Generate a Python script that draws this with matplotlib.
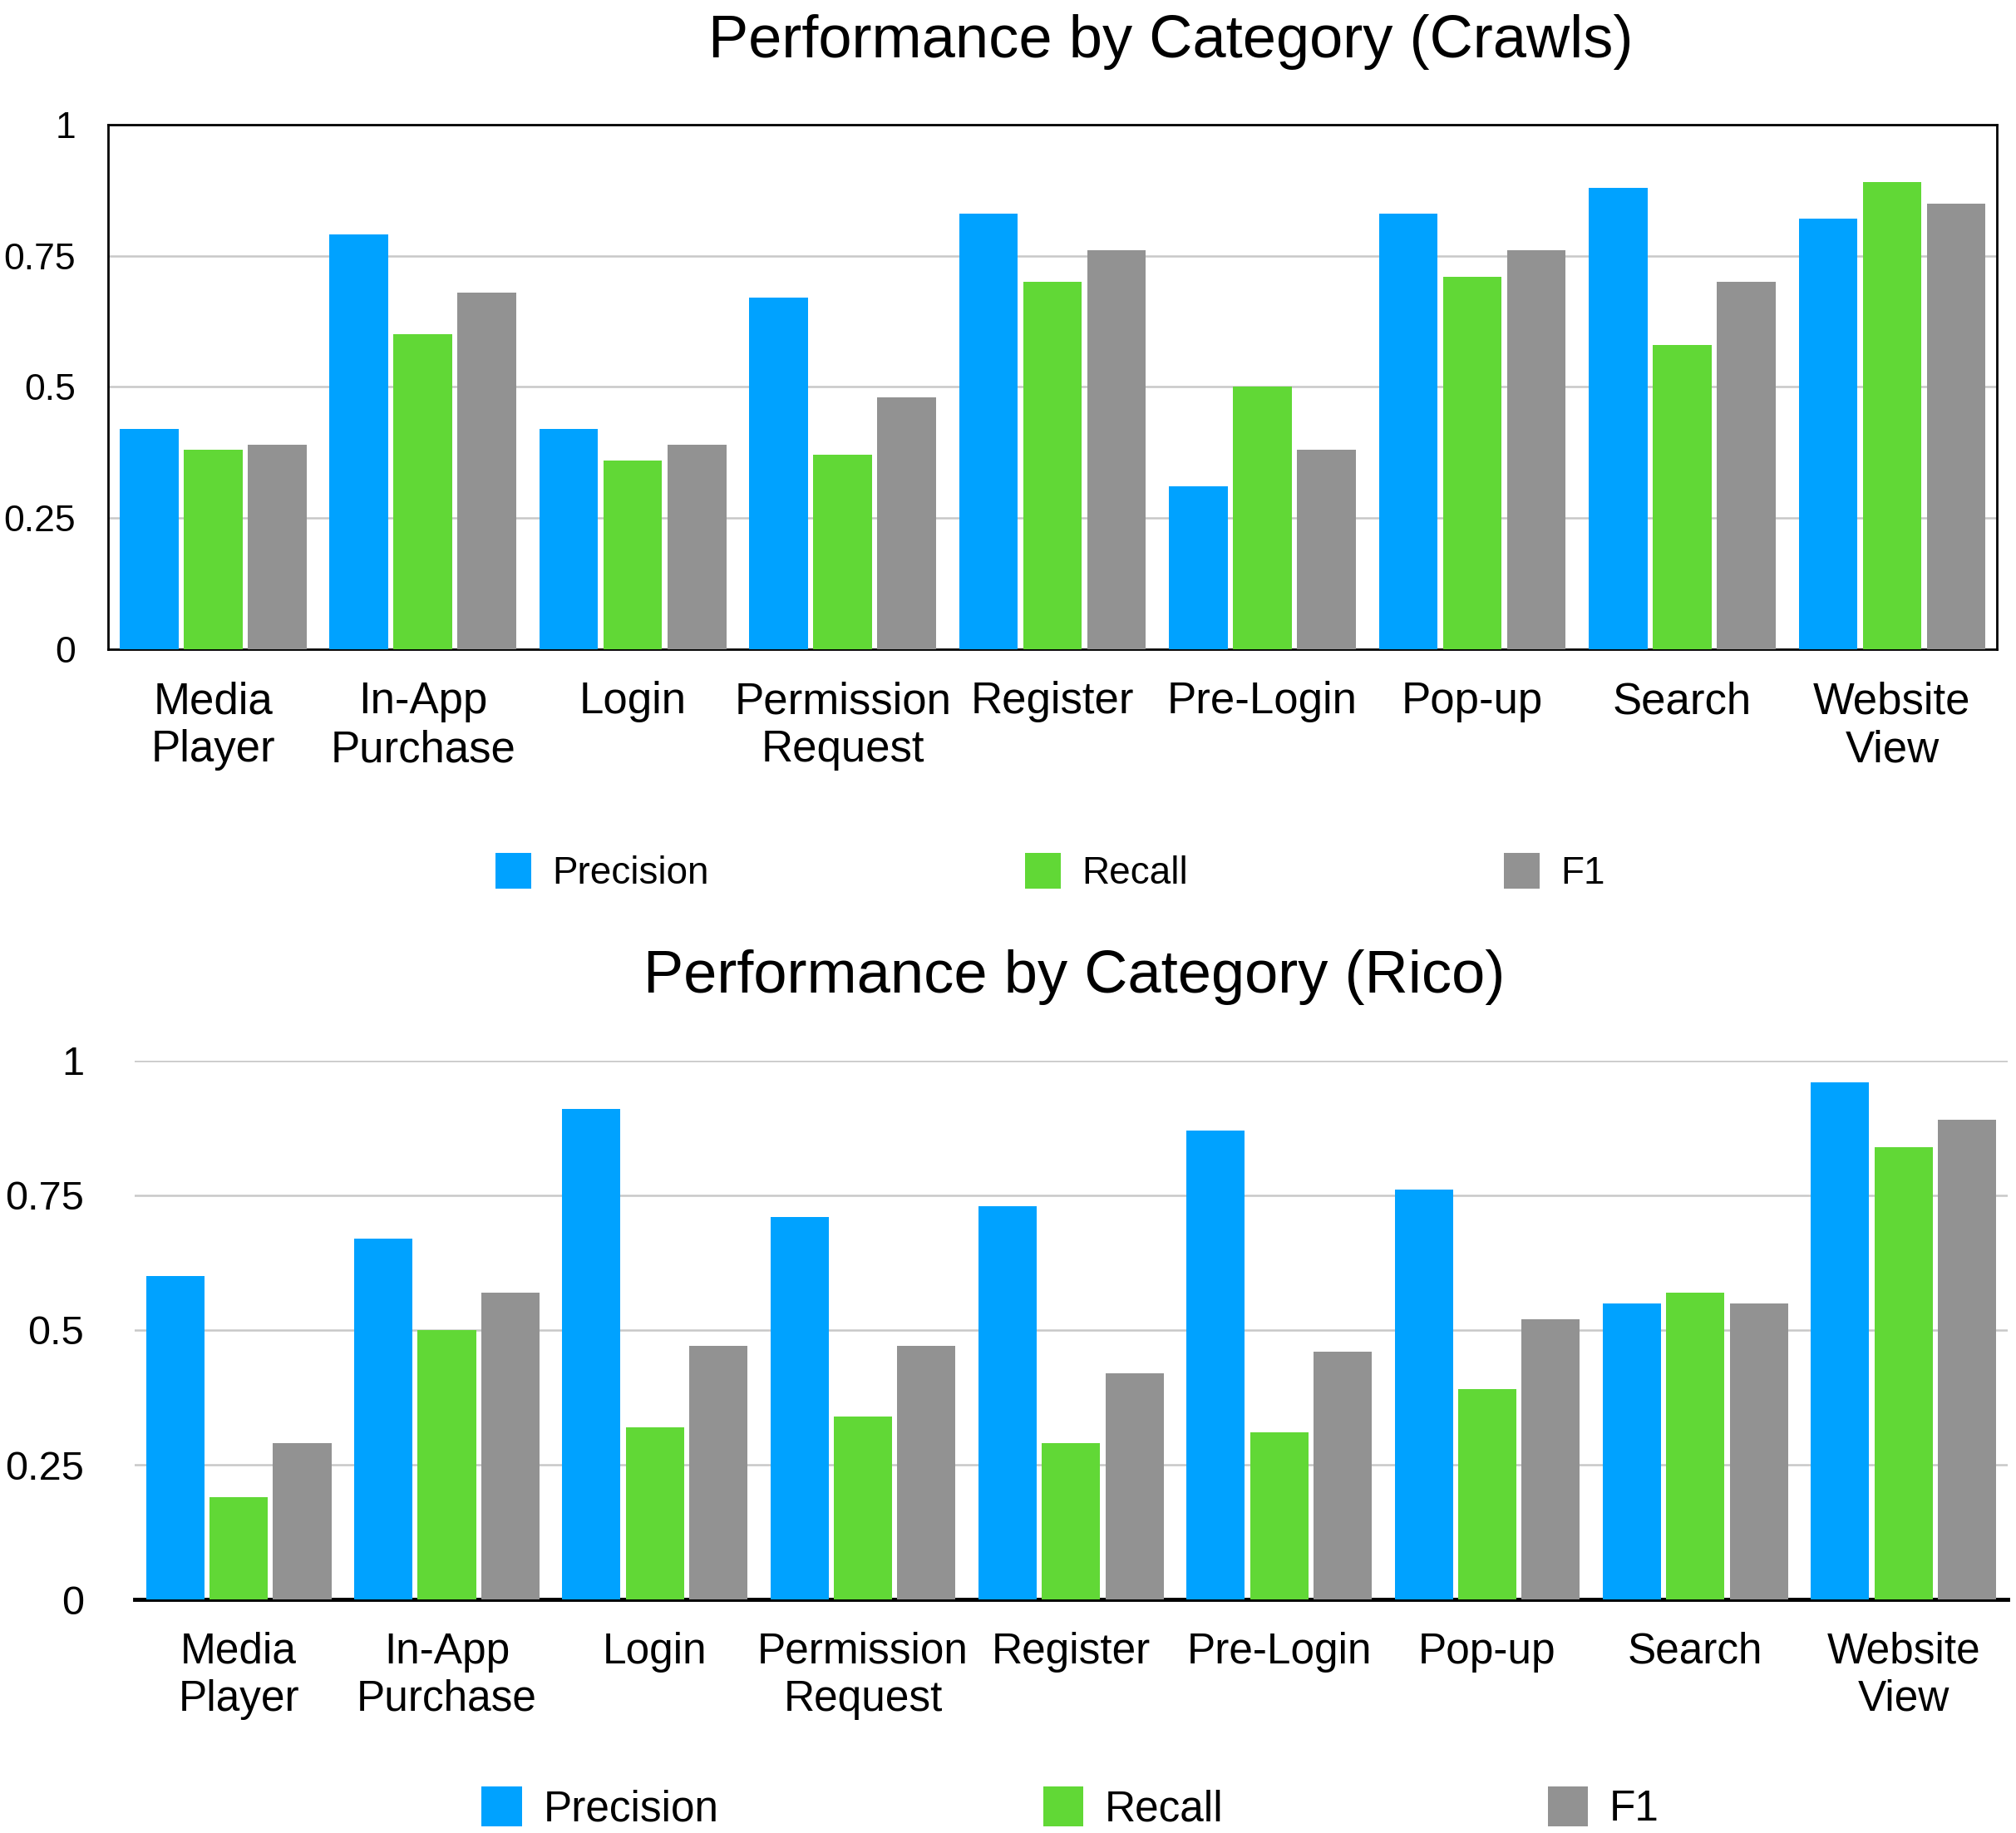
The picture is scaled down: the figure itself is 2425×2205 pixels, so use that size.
import matplotlib
matplotlib.use('Agg')
import matplotlib.pyplot as plt
import numpy as np
from matplotlib.patches import Patch

plt.rcParams['font.family'] = ['Liberation Sans', 'DejaVu Sans']

categories = ['Media\nPlayer', 'In-App\nPurchase', 'Login', 'Permission\nRequest', 'Register',
              'Pre-Login', 'Pop-up', 'Search', 'Website\nView']
series = ['Precision', 'Recall', 'F1']
colors = ['#00A2FF', '#61D836', '#929292']

# Crawls
crawls_precision = [0.42, 0.79, 0.42, 0.67, 0.83, 0.31, 0.83, 0.88, 0.82]
crawls_recall = [0.38, 0.60, 0.36, 0.37, 0.70, 0.50, 0.71, 0.58, 0.89]
crawls_f1 = [0.39, 0.68, 0.39, 0.48, 0.76, 0.38, 0.76, 0.70, 0.85]

# Rico
rico_precision = [0.60, 0.67, 0.91, 0.71, 0.73, 0.87, 0.76, 0.55, 0.96]
rico_recall = [0.19, 0.50, 0.32, 0.34, 0.29, 0.31, 0.39, 0.57, 0.84]
rico_f1 = [0.29, 0.57, 0.47, 0.47, 0.42, 0.46, 0.52, 0.55, 0.89]

yticks = [0, 0.25, 0.5, 0.75, 1]
yticklabels = ['0', '0.25', '0.5', '0.75', '1']

fig = plt.figure(figsize=(24.25, 22.05), dpi=100)

def draw_panel(ax, vals, fs_tick, fs_x, ypad):
    x = np.arange(len(categories))
    step, w = 0.305, 0.28
    for k, (v, c) in enumerate(zip(vals, colors)):
        ax.bar(x + (k - 1) * step, v, width=w, color=c, zorder=3)
    ax.set_xlim(-0.5, len(categories) - 0.5)
    ax.set_ylim(0, 1)
    ax.set_yticks(yticks)
    ax.set_yticklabels(yticklabels, fontsize=fs_tick)
    ax.set_xticks(x)
    ax.set_xticklabels(categories, fontsize=fs_x)
    ax.tick_params(axis='both', length=0)
    ax.tick_params(axis='y', pad=ypad)
    ax.tick_params(axis='x', pad=28)
    ax.yaxis.grid(True, color='#C8C8C8', linewidth=1.8, zorder=0)
    ax.set_axisbelow(True)

# top chart: crawls
ax1 = fig.add_axes([0.0536, 0.646, 0.937, 0.286])
draw_panel(ax1, [crawls_precision, crawls_recall, crawls_f1], 32, 38, 28)
for s in ax1.spines.values():
    s.set_linewidth(2)
    s.set_color('black')
fig.text(0.5806, 0.977, 'Performance by Category (Crawls)', fontsize=52,
         ha='center', va='center')

# bottom chart: rico
ax2 = fig.add_axes([0.0668, 0.1274, 0.929, 0.294])
draw_panel(ax2, [rico_precision, rico_recall, rico_f1], 35, 37, 44)
for name in ['top', 'left', 'right']:
    ax2.spines[name].set_visible(False)
ax2.spines['bottom'].set_linewidth(3.5)
ax2.spines['bottom'].set_color('black')
fig.text(0.533, 0.4667, 'Performance by Category (Rico)', fontsize=52,
         ha='center', va='center')

handles = [Patch(facecolor=c, edgecolor='none') for c in colors]
fig.legend(handles, series, loc='center', bbox_to_anchor=(0.521, 0.524), ncol=3,
           frameon=False, fontsize=33, handlelength=0.94, handleheight=1.07,
           handletextpad=0.55, columnspacing=8.3)
fig.legend(handles, series, loc='center', bbox_to_anchor=(0.531, 0.0136), ncol=3,
           frameon=False, fontsize=37, handlelength=0.94, handleheight=1.07,
           handletextpad=0.5, columnspacing=7.6)

fig.savefig('out.png', dpi=100)
